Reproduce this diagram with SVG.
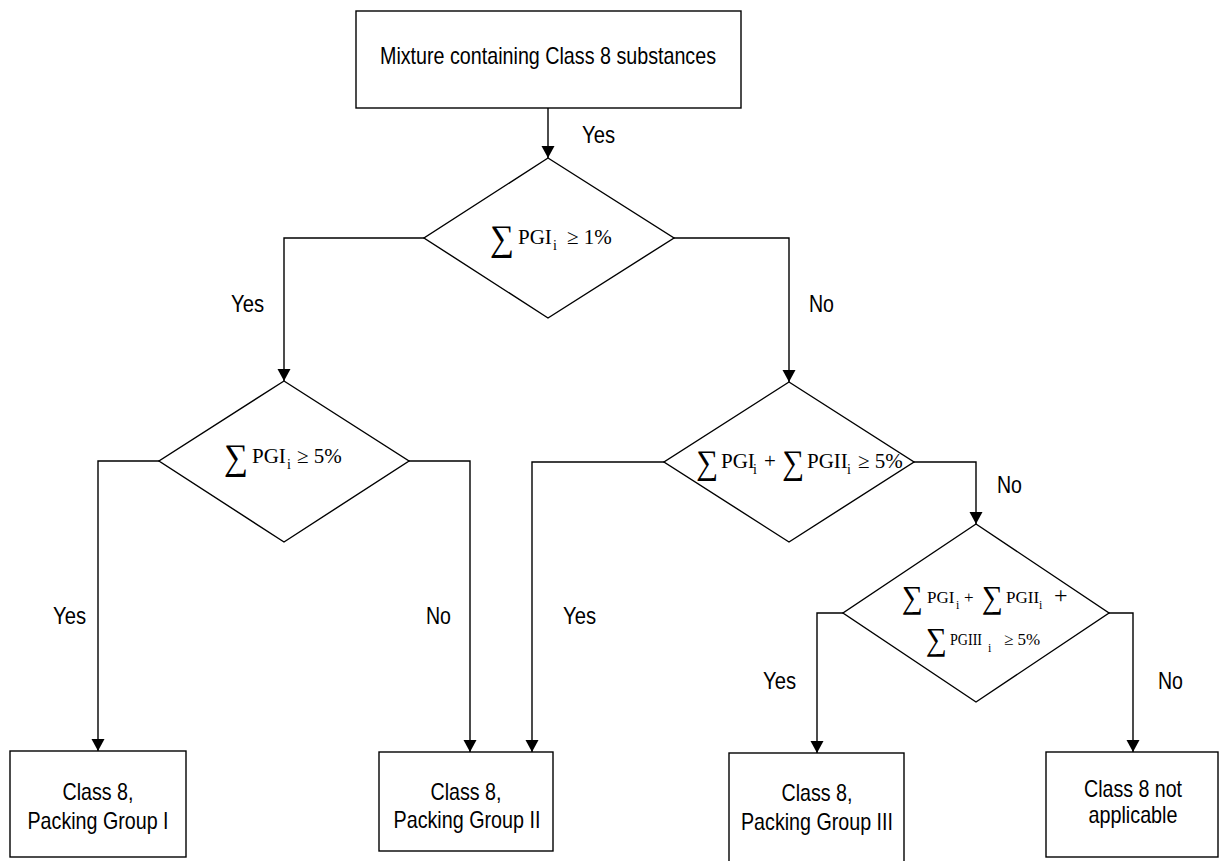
<svg xmlns="http://www.w3.org/2000/svg" width="1219" height="861" viewBox="0 0 1219 861">
<style>
.box{fill:#fff;stroke:#000;stroke-width:1.4}
.dia{fill:#fff;stroke:#000;stroke-width:1.4}
.con{fill:none;stroke:#000;stroke-width:1.4}
.lbl{font-family:"Liberation Sans Narrow","Liberation Sans",Arial,sans-serif;font-size:24px;fill:#000}
.mid{text-anchor:middle}
.m{font-family:"Liberation Serif","Times New Roman",serif;fill:#000}
.sig{font-family:"Liberation Serif","DejaVu Serif",serif;fill:#000}
</style>
<defs>
<marker id="ah" markerUnits="userSpaceOnUse" markerWidth="14" markerHeight="14" refX="12" refY="6.5" orient="auto">
<path d="M0,0 L12,6.5 L0,13 z" fill="#000"/>
</marker>
</defs>
<rect width="1219" height="861" fill="#fff"/>

<g id="connectors">
<path class="con" d="M548,108 V158" marker-end="url(#ah)"/>
<path class="con" d="M424,238 H284 V381" marker-end="url(#ah)"/>
<path class="con" d="M674,238 H789 V382" marker-end="url(#ah)"/>
<path class="con" d="M159,461 H98 V751" marker-end="url(#ah)"/>
<path class="con" d="M409,461 H470 V752" marker-end="url(#ah)"/>
<path class="con" d="M664,462 H532 V752" marker-end="url(#ah)"/>
<path class="con" d="M914,462 H976 V524" marker-end="url(#ah)"/>
<path class="con" d="M843,613 H817 V753" marker-end="url(#ah)"/>
<path class="con" d="M1109,613 H1133 V752" marker-end="url(#ah)"/>
<text class="lbl" x="582" y="143" textLength="33" lengthAdjust="spacingAndGlyphs">Yes</text>
<text class="lbl" x="231" y="312" textLength="33" lengthAdjust="spacingAndGlyphs">Yes</text>
<text class="lbl" x="809" y="312" textLength="25" lengthAdjust="spacingAndGlyphs">No</text>
<text class="lbl" x="53" y="624" textLength="33" lengthAdjust="spacingAndGlyphs">Yes</text>
<text class="lbl" x="426" y="624" textLength="25" lengthAdjust="spacingAndGlyphs">No</text>
<text class="lbl" x="563" y="624" textLength="33" lengthAdjust="spacingAndGlyphs">Yes</text>
<text class="lbl" x="997" y="493" textLength="25" lengthAdjust="spacingAndGlyphs">No</text>
<text class="lbl" x="763" y="689" textLength="33" lengthAdjust="spacingAndGlyphs">Yes</text>
<text class="lbl" x="1158" y="689" textLength="25" lengthAdjust="spacingAndGlyphs">No</text>
</g>

<g id="start">
<rect class="box" x="356" y="11" width="385" height="97"/>
<text class="lbl mid" x="548" y="64" textLength="336" lengthAdjust="spacingAndGlyphs">Mixture containing Class 8 substances</text>
</g>

<g id="d1">
<polygon class="dia" points="548,158 674,238 548,318 424,238"/>
<text class="sig" x="490" y="250" font-size="36" textLength="24" lengthAdjust="spacingAndGlyphs">∑</text>
<text class="m" font-size="21"><tspan x="518" y="244">PGI</tspan><tspan x="553" y="250" font-size="14">i</tspan><tspan x="567" y="244">≥ 1%</tspan></text>
</g>

<g id="d2">
<polygon class="dia" points="284,381 409,461 284,542 159,461"/>
<text class="sig" x="224" y="469" font-size="36" textLength="24" lengthAdjust="spacingAndGlyphs">∑</text>
<text class="m" font-size="21"><tspan x="252" y="463">PGI</tspan><tspan x="287" y="469" font-size="14">i</tspan><tspan x="297" y="463">≥ 5%</tspan></text>
</g>

<g id="d3">
<polygon class="dia" points="789,382 914,462 789,542 664,462"/>
<text class="sig" x="696" y="474" font-size="34" textLength="22" lengthAdjust="spacingAndGlyphs">∑</text>
<text class="sig" x="782" y="474" font-size="34" textLength="22" lengthAdjust="spacingAndGlyphs">∑</text>
<text class="m" font-size="21"><tspan x="721" y="468">PGI</tspan><tspan x="753" y="474" font-size="14">i</tspan><tspan x="764" y="468">+</tspan><tspan x="807" y="468">PGII</tspan><tspan x="847" y="474" font-size="14">i</tspan><tspan x="858" y="468">≥ 5%</tspan></text>
</g>

<g id="d4">
<polygon class="dia" points="976,524 1109,613 976,702 843,613"/>
<text class="sig" x="902" y="608" font-size="32" textLength="21" lengthAdjust="spacingAndGlyphs">∑</text>
<text class="sig" x="982" y="608" font-size="32" textLength="21" lengthAdjust="spacingAndGlyphs">∑</text>
<text class="sig" x="926" y="650" font-size="32" textLength="21" lengthAdjust="spacingAndGlyphs">∑</text>
<text class="m" font-size="17"><tspan x="927" y="603">PGI</tspan><tspan x="956" y="609" font-size="12">i</tspan><tspan x="964" y="603">+</tspan><tspan x="1006" y="603">PGII</tspan><tspan x="1039" y="609" font-size="12">i</tspan><tspan x="1054" y="603" font-size="24">+</tspan></text>
<text class="m" font-size="17"><tspan x="950" y="645" textLength="32" lengthAdjust="spacingAndGlyphs">PGIII</tspan></text>
<text class="m" font-size="12" x="988" y="652">i</text>
<text class="m" font-size="17" x="1004" y="645">≥ 5%</text>
</g>

<g id="b1">
<rect class="box" x="10" y="751" width="176" height="106"/>
<text class="lbl mid" x="98" y="800" textLength="71" lengthAdjust="spacingAndGlyphs">Class 8,</text>
<text class="lbl mid" x="98" y="829" textLength="141" lengthAdjust="spacingAndGlyphs">Packing Group I</text>
</g>

<g id="b2">
<rect class="box" x="379" y="752" width="174" height="99"/>
<text class="lbl mid" x="466" y="800" textLength="71" lengthAdjust="spacingAndGlyphs">Class 8,</text>
<text class="lbl mid" x="467" y="828" textLength="147" lengthAdjust="spacingAndGlyphs">Packing Group II</text>
</g>

<g id="b3">
<rect class="box" x="729" y="753" width="175" height="120"/>
<text class="lbl mid" x="817" y="801" textLength="71" lengthAdjust="spacingAndGlyphs">Class 8,</text>
<text class="lbl mid" x="817" y="830" textLength="152" lengthAdjust="spacingAndGlyphs">Packing Group III</text>
</g>

<g id="b4">
<rect class="box" x="1046" y="752" width="172" height="105"/>
<text class="lbl mid" x="1133" y="797" textLength="98" lengthAdjust="spacingAndGlyphs">Class 8 not</text>
<text class="lbl mid" x="1133" y="823" textLength="89" lengthAdjust="spacingAndGlyphs">applicable</text>
</g>
</svg>
